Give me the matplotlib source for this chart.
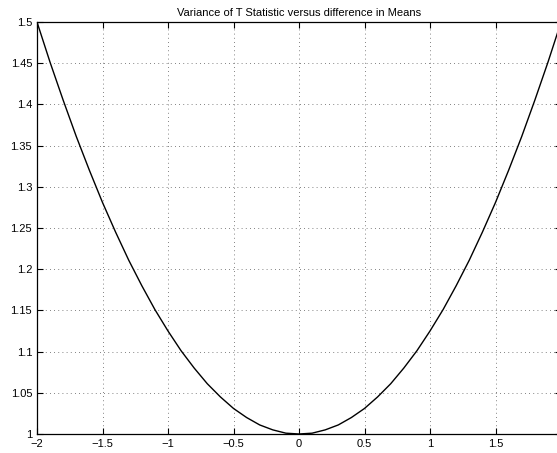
import numpy as np
import matplotlib
matplotlib.use('Agg')
import matplotlib.pyplot as plt
from matplotlib.ticker import FuncFormatter

# Values (difference in means vs variance of T)
diff_means = [-2.0, -1.9, -1.8, -1.7, -1.6, -1.5, -1.4, -1.3, -1.2, -1.1, -1.0,
              -0.9, -0.8, -0.7, -0.6, -0.5, -0.4, -0.3, -0.2, -0.1, 0.0,
              0.1, 0.2, 0.3, 0.4, 0.5, 0.6, 0.7, 0.8, 0.9, 1.0,
              1.1, 1.2, 1.3, 1.4, 1.5, 1.6, 1.7, 1.8, 1.9, 1.98]
variance_t = [1.500, 1.451, 1.405, 1.361, 1.320, 1.281, 1.245, 1.211, 1.180, 1.151, 1.125,
              1.101, 1.080, 1.061, 1.045, 1.031, 1.020, 1.011, 1.005, 1.001, 1.000,
              1.001, 1.005, 1.011, 1.020, 1.031, 1.045, 1.061, 1.080, 1.101, 1.125,
              1.151, 1.180, 1.211, 1.245, 1.281, 1.320, 1.361, 1.405, 1.451, 1.490]

x_ticks = [-2, -1.5, -1, -0.5, 0, 0.5, 1, 1.5]
y_ticks = [1, 1.05, 1.1, 1.15, 1.2, 1.25, 1.3, 1.35, 1.4, 1.45, 1.5]

plt.rcParams['font.family'] = ['Liberation Sans', 'DejaVu Sans']

fig = plt.figure(figsize=(5.57, 4.53), dpi=100)
# right edge of the axes sits just past the figure edge, as in the original
ax = fig.add_axes([37 / 557, 19 / 453, 524 / 557, 412 / 453])

ax.plot(diff_means, variance_t, color='black', lw=1.0)

ax.set_xlim(-2, 2)
ax.set_ylim(1, 1.5)
ax.set_xticks(x_ticks)
ax.set_yticks(y_ticks)
fmt = FuncFormatter(lambda v, p: ('%g' % v).replace('-', '\u2212'))
ax.xaxis.set_major_formatter(fmt)
ax.yaxis.set_major_formatter(fmt)
ax.tick_params(direction='in', top=True, right=True, labelsize=8, length=4, width=0.8)
ax.grid(True, linestyle=(0, (1, 4)), color='0.35', lw=0.6)
for s in ax.spines.values():
    s.set_linewidth(0.9)

ax.set_title('Variance of T Statistic versus difference in Means', fontsize=8, pad=4)

fig.savefig('out.png', dpi=100)
